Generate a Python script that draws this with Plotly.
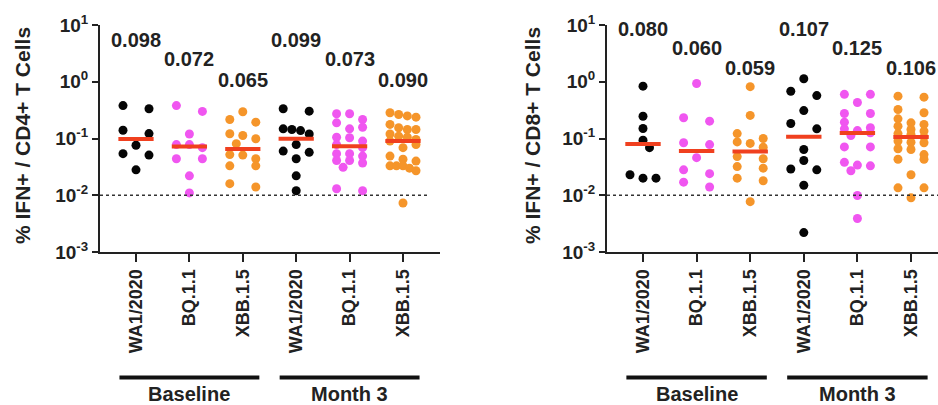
import math
import plotly.graph_objects as go

# ---------------- data ----------------
categories = ["WA1/2020", "BQ.1.1", "XBB.1.5", "WA1/2020", "BQ.1.1", "XBB.1.5"]
groups = ["Baseline", "Month 3"]

cd4_wa1_base = [0.38, 0.334, 0.14, 0.122, 0.076, 0.054, 0.051, 0.028]
cd4_bq_base = [0.38, 0.30, 0.12, 0.078, 0.078, 0.069, 0.044, 0.044, 0.022, 0.011]
cd4_xbb_base = [0.296, 0.216, 0.194, 0.121, 0.113, 0.099, 0.081, 0.052, 0.051, 0.044,
                0.033, 0.033, 0.016, 0.014]
cd4_wa1_m3 = [0.334, 0.303, 0.148, 0.144, 0.138, 0.120, 0.078, 0.060, 0.057, 0.044, 0.022, 0.012]
cd4_bq_m3 = [0.273, 0.273, 0.216, 0.189, 0.158, 0.148, 0.105, 0.103, 0.090, 0.078, 0.069,
             0.054, 0.054, 0.049, 0.041, 0.041, 0.037, 0.031, 0.013, 0.012]
cd4_xbb_m3 = [0.284, 0.265, 0.25, 0.238, 0.177, 0.155, 0.144, 0.144, 0.12, 0.110, 0.105, 0.096,
              0.090, 0.078, 0.069, 0.049, 0.043, 0.040, 0.033, 0.033, 0.033, 0.030, 0.027, 0.0073]

cd8_wa1_base = [0.835, 0.247, 0.150, 0.093, 0.069, 0.023, 0.020, 0.020]
cd8_bq_base = [0.93, 0.232, 0.202, 0.084, 0.078, 0.046, 0.028, 0.024, 0.017, 0.014]
cd8_xbb_base = [0.82, 0.255, 0.122, 0.100, 0.087, 0.082, 0.070, 0.048, 0.044, 0.032,
                0.030, 0.020, 0.018, 0.0077]
cd8_wa1_m3 = [1.13, 0.68, 0.57, 0.31, 0.184, 0.148, 0.064, 0.041, 0.029, 0.028, 0.015, 0.0022]
cd8_bq_m3 = [0.60, 0.60, 0.43, 0.276, 0.276, 0.194, 0.155, 0.148, 0.138, 0.126, 0.113,
             0.071, 0.071, 0.038, 0.034, 0.033, 0.027, 0.0099, 0.0039]
cd8_xbb_m3 = [0.557, 0.535, 0.324, 0.284, 0.222, 0.189, 0.177, 0.165, 0.144, 0.135, 0.122,
              0.118, 0.107, 0.090, 0.086, 0.084, 0.066, 0.064, 0.052, 0.043, 0.043, 0.023,
              0.0135, 0.0135, 0.009]

cd4_medians = [0.098, 0.072, 0.065, 0.099, 0.073, 0.090]
cd8_medians = [0.080, 0.060, 0.059, 0.107, 0.125, 0.106]

cd4_series = [cd4_wa1_base, cd4_bq_base, cd4_xbb_base, cd4_wa1_m3, cd4_bq_m3, cd4_xbb_m3]
cd8_series = [cd8_wa1_base, cd8_bq_base, cd8_xbb_base, cd8_wa1_m3, cd8_bq_m3, cd8_xbb_m3]

titles = ["% IFN+ / CD4+ T Cells", "% IFN+ / CD8+ T Cells"]
threshold = 0.01

# ---------------- style ----------------
W, H = 938, 405
DOT_COLORS = ["#050505", "#F056F0", "#F5952A", "#050505", "#F056F0", "#F5952A"]
MEDIAN_COLOR = "#F0401F"
INK = "#222222"
FONT = "Arial, Liberation Sans, sans-serif"

Y_TOP_PX, Y_BOT_PX = 25, 252
DEC_PX = (Y_BOT_PX - Y_TOP_PX) / 4.0
panels = [
    dict(x0=100, x1=440, first=36, step=53.4, levels=[0.736, 0.401, 0.031], title_x=22,
         dot_end=0.97),
    dict(x0=607, x1=938, first=36, step=53.6, levels=[0.93, 0.595, 0.242], title_x=532,
         dot_end=1.0),
]

MARK = 9
ROW_PX = 6.0
STEP_PX = 13.0


def swarm_offsets(values, px_per_unit):
    ys = [math.log10(v) * DEC_PX for v in values]
    order = sorted(range(len(values)), key=lambda i: -values[i])
    rows, cur, start = [], [order[0]], ys[order[0]]
    for idx in order[1:]:
        if start - ys[idx] <= ROW_PX:
            cur.append(idx)
        else:
            rows.append(cur)
            cur, start = [idx], ys[idx]
    rows.append(cur)
    offs = [0.0] * len(values)
    placed = []
    for row in rows:
        n = len(row)
        if n == 1:
            y = ys[row[0]]
            best, best_clear = 0.0, -1.0
            for c in [0.0, STEP_PX / 2, -STEP_PX / 2, STEP_PX, -STEP_PX]:
                clear = min([math.hypot(c - px, y - py) for px, py in placed] or [99.0])
                if clear >= MARK + 0.5:
                    best = c
                    break
                if clear > best_clear:
                    best, best_clear = c, clear
            offs[row[0]] = best
            placed.append((best, y))
        else:
            half = STEP_PX
            for j, idx in enumerate(row):
                o = -half + 2 * half * j / (n - 1)
                offs[idx] = o
                placed.append((o, ys[idx]))
    return [o / px_per_unit for o in offs]


fig = go.Figure()
layout_axes = {}
annotations = []
shapes = []

ydom = [1 - Y_BOT_PX / H, 1 - Y_TOP_PX / H]
for p, (series, medians, panel) in enumerate(zip([cd4_series, cd8_series],
                                                 [cd4_medians, cd8_medians], panels)):
    xa = "x" if p == 0 else "x2"
    ya = "y" if p == 0 else "y2"
    step = panel["step"]
    r0 = -panel["first"] / step
    r1 = r0 + (panel["x1"] - panel["x0"]) / step

    for i, vals in enumerate(series):
        offs = swarm_offsets(vals, step)
        fig.add_trace(go.Scatter(
            x=[i + o for o in offs], y=vals, mode="markers", xaxis=xa, yaxis=ya,
            marker=dict(size=MARK, color=DOT_COLORS[i], line=dict(width=0)),
            showlegend=False, hoverinfo="y", cliponaxis=False))
    mx, my = [], []
    for i, m in enumerate(medians):
        mx += [i - 0.33, i + 0.33, None]
        my += [m, m, None]
    fig.add_trace(go.Scatter(x=mx, y=my, mode="lines", xaxis=xa, yaxis=ya,
                             line=dict(color=MEDIAN_COLOR, width=4),
                             showlegend=False, hoverinfo="skip"))

    for i, m in enumerate(medians):
        annotations.append(dict(
            x=i, y=panel["levels"][i % 3], xref=xa, yref=ya,
            text=f"<b>{m:.3f}</b>", showarrow=False, xanchor="center", yanchor="middle",
            font=dict(family=FONT, size=20, color=INK)))

    # group labels & bars
    for g, name in enumerate(groups):
        c0, c2 = 3 * g, 3 * g + 2
        shapes.append(dict(type="line", xref=xa, yref="paper",
                           x0=c0 - 0.31, x1=c2 + 0.31, y0=1 - 377.5 / H, y1=1 - 377.5 / H,
                           line=dict(color="#111111", width=4)))
        annotations.append(dict(
            x=c0 + 1, y=1 - 381 / H, xref=xa, yref="paper", text=f"<b>{name}</b>",
            showarrow=False, xanchor="center", yanchor="top",
            font=dict(family=FONT, size=20, color=INK)))

    # threshold dotted line
    shapes.append(dict(type="line", xref=f"{xa} domain", yref=ya, x0=0, x1=panel["dot_end"],
                       y0=threshold, y1=threshold,
                       line=dict(color="#333333", width=1.5, dash="dot")))

    # y-title
    annotations.append(dict(
        x=panel["title_x"] / W, y=1 - 136 / H, xref="paper", yref="paper",
        text=f"<b>{titles[p]}</b>", showarrow=False, textangle=-90,
        xanchor="center", yanchor="middle",
        font=dict(family=FONT, size=21, color=INK)))

    key = "" if p == 0 else "2"
    layout_axes[f"xaxis{key}"] = dict(
        domain=[panel["x0"] / W, panel["x1"] / W], range=[r0, r1], anchor=ya,
        tickvals=list(range(6)), ticktext=[f"<b>{c}</b>" for c in categories],
        tickangle=-90, ticks="outside", ticklen=8, tickwidth=2, tickcolor=INK,
        showline=True, linewidth=2, linecolor=INK, showgrid=False, zeroline=False,
        automargin=False,
        tickfont=dict(family=FONT, size=18, color=INK), fixedrange=True)
    layout_axes[f"yaxis{key}"] = dict(
        domain=ydom, type="log", range=[-3, 1], anchor=xa,
        tickvals=[1e-3, 1e-2, 1e-1, 1, 10],
        ticktext=["<b>10<sup>-3</sup></b>", "<b>10<sup>-2</sup></b>", "<b>10<sup>-1</sup></b>",
                  "<b>10<sup>0</sup></b>", "<b>10<sup>1</sup></b>"],
        ticks="outside", ticklen=6, tickwidth=2, tickcolor=INK,
        showline=True, linewidth=2, linecolor=INK, showgrid=False, zeroline=False,
        automargin=False,
        tickfont=dict(family=FONT, size=19, color=INK), fixedrange=True)

fig.update_layout(
    width=W, height=H, margin=dict(l=0, r=0, t=0, b=0, autoexpand=False),
    paper_bgcolor="white", plot_bgcolor="white",
    annotations=annotations, shapes=shapes, **layout_axes)

fig.write_html("out.html")
